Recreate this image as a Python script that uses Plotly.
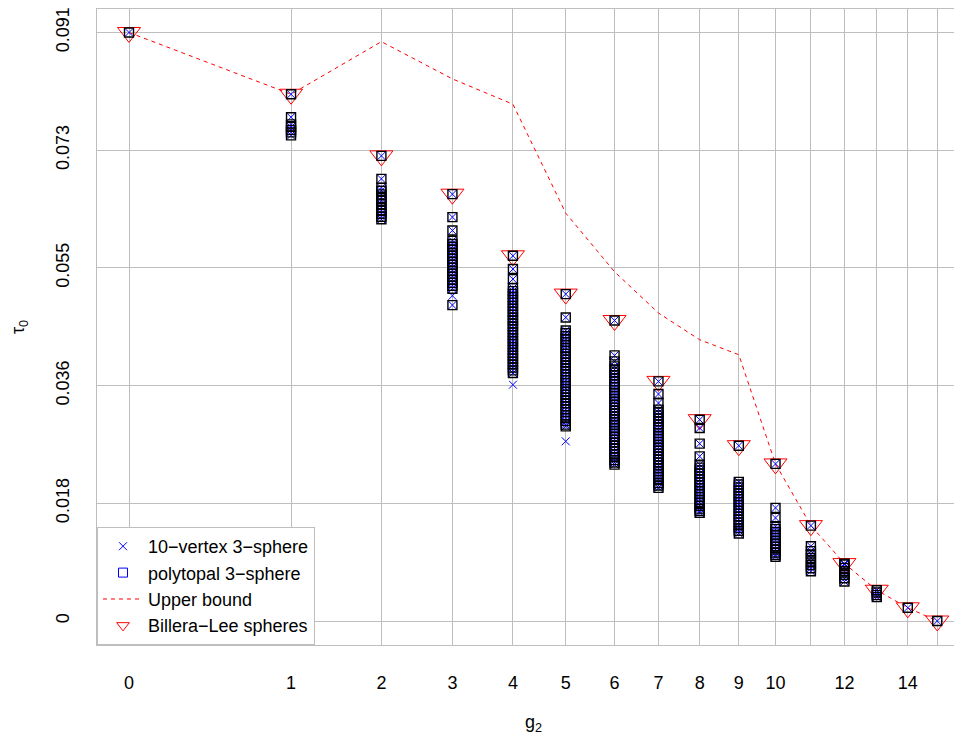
import plotly.graph_objects as go

# ---------------- data ----------------
g2_values = list(range(16))
x_tick_labels = ["0", "1", "2", "3", "4", "5", "6", "7", "8", "9", "10", " ", "12", " ", "14", " "]
y_tick_values = [0.0, 0.0182, 0.0364, 0.0546, 0.0728, 0.0910]
y_tick_labels = ["0", "0.018", "0.036", "0.055", "0.073", "0.091"]

# polytopal 3-spheres: tau_0 values per g2 column
poly_g0 = [0.0910]
poly_g1 = [0.08145, 0.07790, 0.07679, 0.07640, 0.07594, 0.07555, 0.07509]
poly_g2 = [0.07192, 0.06837, 0.06698, 0.06652, 0.06597, 0.06543, 0.06497, 0.06443,
           0.06389, 0.06342, 0.06296, 0.06250, 0.06211]
poly_g3 = [0.06600, 0.06245, 0.06038, 0.05879, 0.05830, 0.05788, 0.05741, 0.05690,
           0.05648, 0.05601, 0.05556, 0.05507, 0.05463, 0.05413, 0.05370, 0.05322,
           0.05278, 0.05229, 0.05184, 0.05138, 0.04885]
poly_g4 = [0.05647, 0.05442, 0.05287, 0.05148, 0.05101, 0.05058, 0.05010, 0.04965,
           0.04921, 0.04872, 0.04830, 0.04781, 0.04738, 0.04690, 0.04648, 0.04601,
           0.04555, 0.04512, 0.04463, 0.04420, 0.04372, 0.04330, 0.04283, 0.04238,
           0.04192, 0.04147, 0.04101, 0.04058, 0.04010, 0.03968, 0.03920, 0.03876,
           0.03835]
poly_g5 = [0.05055, 0.04694, 0.04493, 0.04450, 0.04402, 0.04361, 0.04312, 0.04270,
           0.04221, 0.04180, 0.04131, 0.04090, 0.04042, 0.03998, 0.03950, 0.03908,
           0.03861, 0.03817, 0.03770, 0.03725, 0.03680, 0.03636, 0.03590, 0.03545,
           0.03499, 0.03455, 0.03410, 0.03366, 0.03320, 0.03274, 0.03230, 0.03184,
           0.03140, 0.03092, 0.03036, 0.03010]
poly_g6 = [0.04647, 0.04107, 0.04014, 0.03937, 0.03890, 0.03842, 0.03800, 0.03752,
           0.03708, 0.03661, 0.03617, 0.03570, 0.03526, 0.03480, 0.03434, 0.03390,
           0.03345, 0.03300, 0.03255, 0.03210, 0.03164, 0.03120, 0.03073, 0.03030,
           0.02984, 0.02940, 0.02893, 0.02850, 0.02803, 0.02760, 0.02713, 0.02668,
           0.02623, 0.02580, 0.02532, 0.02488, 0.02450, 0.02418]
poly_g7 = [0.03705, 0.03510, 0.03370, 0.03268, 0.03222, 0.03178, 0.03131, 0.03088,
           0.03040, 0.02997, 0.02951, 0.02905, 0.02860, 0.02815, 0.02770, 0.02724,
           0.02680, 0.02633, 0.02588, 0.02543, 0.02498, 0.02452, 0.02408, 0.02362,
           0.02318, 0.02272, 0.02228, 0.02181, 0.02135, 0.02095, 0.02058]
poly_g8 = [0.03113, 0.02985, 0.02742, 0.02546, 0.02418, 0.02372, 0.02327, 0.02280,
           0.02236, 0.02190, 0.02145, 0.02100, 0.02054, 0.02010, 0.01963, 0.01918,
           0.01872, 0.01828, 0.01783, 0.01738, 0.01700, 0.01672]
poly_g9 = [0.02711, 0.02151, 0.02110, 0.02065, 0.02020, 0.01975, 0.01930, 0.01884,
           0.01840, 0.01795, 0.01750, 0.01705, 0.01660, 0.01615, 0.01570, 0.01525,
           0.01480, 0.01436, 0.01395, 0.01352]
poly_g10 = [0.02429, 0.01749, 0.01594, 0.01465, 0.01420, 0.01375, 0.01330, 0.01285,
            0.01240, 0.01195, 0.01150, 0.01105, 0.01060, 0.01020, 0.00992]
poly_g11 = [0.01475, 0.01156, 0.01080, 0.01030, 0.00975, 0.00920, 0.00865, 0.00815, 0.00769]
poly_g12 = [0.00888, 0.00873, 0.00822, 0.00769, 0.00715, 0.00660, 0.00610]
poly_g13 = [0.00476, 0.00440, 0.00400, 0.00370]
poly_g14 = [0.00204]
poly_g15 = [0.0]

# 10-vertex 3-spheres that are not polytopal
nonpoly_g2 = [3, 4, 5]
nonpoly_tau = [0.05029, 0.03654, 0.02778]

# Billera-Lee spheres and the upper bound
bl_tau = [0.0910, 0.08145, 0.07192, 0.06600, 0.05647, 0.05055, 0.04647, 0.03705,
          0.03113, 0.02711, 0.02429, 0.01475, 0.00888, 0.00476, 0.00204, 0.0]
upper_tau = [0.0910, 0.08145, 0.08958, 0.08382, 0.07991, 0.06307, 0.05400, 0.04762,
             0.04349, 0.04117, 0.02429, 0.01475, 0.00888, 0.00476, 0.00204, 0.0]

# ---------------- non-linear g2 axis scale ----------------
G2_SCALE = [0.0, 3.007, 4.684, 6.002, 7.125, 8.105, 9.011, 9.826, 10.591,
            11.317, 11.998, 12.655, 13.277, 13.877, 14.453, 15.0]


def sx(g):
    return G2_SCALE[g]


poly_cols = [poly_g0, poly_g1, poly_g2, poly_g3, poly_g4, poly_g5, poly_g6, poly_g7,
             poly_g8, poly_g9, poly_g10, poly_g11, poly_g12, poly_g13, poly_g14, poly_g15]
poly_x, poly_y = [], []
for g, col in zip(g2_values, poly_cols):
    for t in col:
        poly_x.append(sx(g))
        poly_y.append(t)
ten_x = poly_x + [sx(g) for g in nonpoly_g2]
ten_y = poly_y + nonpoly_tau

FONT = "Liberation Sans, Arial, Helvetica, sans-serif"
GRID = "#BEBEBE"

fig = go.Figure()

fig.add_trace(go.Scatter(
    x=[sx(g) for g in g2_values], y=upper_tau, mode="lines",
    line=dict(color="#FF0000", width=1, dash="4px,4px"), showlegend=False,
    hoverinfo="skip"))
fig.add_trace(go.Scatter(
    x=[sx(g) for g in g2_values], y=bl_tau, mode="markers",
    marker=dict(symbol="triangle-down-open", color="#FF0000", size=20,
                line=dict(width=1, color="#FF0000")), showlegend=False))
fig.add_trace(go.Scatter(
    x=ten_x, y=ten_y, mode="markers",
    marker=dict(symbol="x-thin-open", color="#0000FF", size=8,
                line=dict(width=1, color="#0000FF")), showlegend=False))
fig.add_trace(go.Scatter(
    x=poly_x, y=poly_y, mode="markers",
    marker=dict(symbol="square-open", color="#000000", size=9,
                line=dict(width=1.4, color="#111111")), showlegend=False))

# legend entries
fig.add_trace(go.Scatter(
    x=[None], y=[None], mode="markers", name="10−vertex 3−sphere",
    marker=dict(symbol="x-thin-open", color="#0000FF", size=8,
                line=dict(width=1, color="#0000FF"))))
fig.add_trace(go.Scatter(
    x=[None], y=[None], mode="markers", name="polytopal 3−sphere",
    marker=dict(symbol="square-open", color="#0000FF", size=9,
                line=dict(width=1, color="#0000FF"))))
fig.add_trace(go.Scatter(
    x=[None], y=[None], mode="lines", name="Upper bound",
    line=dict(color="#FF0000", width=1, dash="4px,4px")))
fig.add_trace(go.Scatter(
    x=[None], y=[None], mode="markers", name="Billera−Lee spheres",
    marker=dict(symbol="triangle-down-open", color="#FF0000", size=11,
                line=dict(width=1, color="#FF0000"))))

# the page body has an 8px margin, so the figure is drawn 8px in from the corner
fig.update_layout(
    width=954, height=729,
    margin=dict(l=89, r=0, t=1, b=92),
    paper_bgcolor="white", plot_bgcolor="white",
    font=dict(family=FONT, size=18, color="black"),
    xaxis=dict(
        range=[-0.594, 15.459], tickmode="array",
        tickvals=[sx(g) for g in g2_values], ticktext=x_tick_labels,
        showgrid=True, gridcolor=GRID, gridwidth=1, zeroline=False,
        showline=True, linecolor=GRID, linewidth=1, mirror=True,
        ticks="outside", ticklen=21, tickcolor="rgba(0,0,0,0)",
        tickfont=dict(size=18, family=FONT), tickangle=0,
        ticklabeloverflow="allow"),
    yaxis=dict(
        range=[-0.00371, 0.09463], tickmode="array",
        tickvals=y_tick_values, ticktext=y_tick_labels,
        showgrid=True, gridcolor=GRID, gridwidth=1, zeroline=False,
        showline=True, linecolor=GRID, linewidth=1, mirror=False,
        ticks="outside", ticklen=20, tickcolor="rgba(0,0,0,0)",
        tickfont=dict(size=18, family=FONT), tickangle=-90,
        ticklabeloverflow="allow"),
    legend=dict(
        x=0, y=0, xanchor="left", yanchor="bottom",
        bgcolor="white", bordercolor=GRID, borderwidth=1,
        font=dict(size=18, family=FONT), itemwidth=40,
        tracegroupgap=0),
    annotations=[
        dict(text="g<sub>2</sub>", xref="paper", yref="paper",
             x=(533 - 97) / 865, y=-0.102, xanchor="center", yanchor="top",
             showarrow=False, font=dict(size=18, family=FONT)),
        dict(text="τ<sub>0</sub>", xref="paper", yref="paper",
             x=(19 - 97) / 865, y=0.5, xanchor="center", yanchor="middle",
             textangle=-90, showarrow=False, font=dict(size=18, family=FONT)),
    ],
)

fig.write_html("out.html")
